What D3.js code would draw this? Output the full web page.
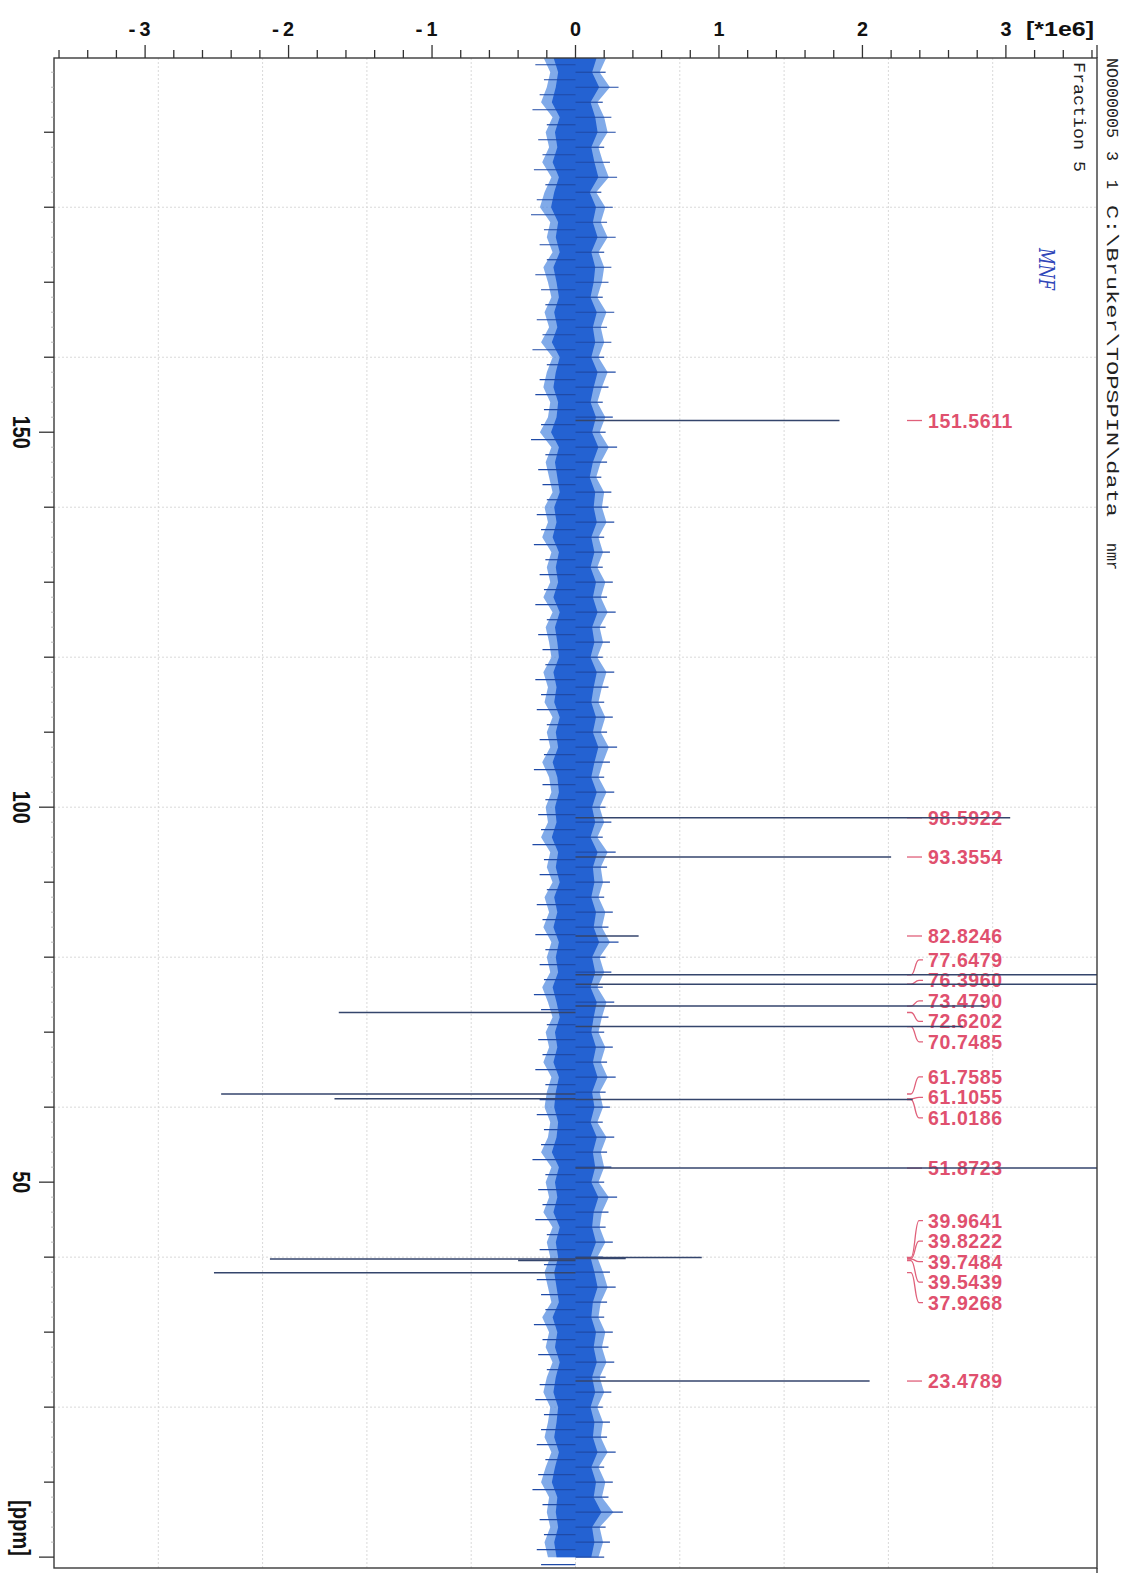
<!DOCTYPE html>
<html><head><meta charset="utf-8">
<script src="https://cdn.jsdelivr.net/npm/d3@7"></script>
<style>body{margin:0;background:#fff}svg{display:block}</style>
</head><body>
<script>
// ---- data ----
const peakPpm = [151.5611, 98.5922, 93.3554, 82.8246, 77.6479, 76.3960, 73.4790, 72.6202, 70.7485,
                 61.7585, 61.1055, 61.0186, 51.8723, 39.9641, 39.8222, 39.7484, 39.5439, 37.9268, 23.4789];
const peakIntensity = [1.84, 3.03, 2.2, 0.44, 4.0, 4.0, 2.85, -1.65, 2.7,
                       -2.47, -1.68, 2.35, 4.2, 0.88, 0.35, -2.13, -0.4, -2.52, 2.05]; // *1e6
const peakLabels = ["151.5611","98.5922","93.3554","82.8246","77.6479","76.3960","73.4790","72.6202","70.7485",
                    "61.7585","61.1055","61.0186","51.8723","39.9641","39.8222","39.7484","39.5439","37.9268","23.4789"];
// baseline noise envelope, sampled every 2 ppm from 200 to 0
const noisePpm = d3.range(200, -1, -2);
const noiseHi = [
0.27,0.21,0.30,0.19,0.25,0.28,0.20,0.24,0.29,0.18,
0.26,0.22,0.28,0.20,0.25,0.23,0.19,0.27,0.22,0.25,
0.20,0.28,0.23,0.19,0.26,0.21,0.29,0.22,0.18,0.25,
0.23,0.27,0.20,0.24,0.19,0.26,0.22,0.28,0.21,0.24,
0.19,0.27,0.23,0.20,0.26,0.22,0.29,0.24,0.20,0.27,
0.21,0.25,0.19,0.28,0.22,0.24,0.20,0.26,0.23,0.30,
0.21,0.25,0.19,0.27,0.23,0.20,0.26,0.22,0.28,0.21,
0.24,0.19,0.27,0.22,0.25,0.20,0.29,0.23,0.21,0.26,
0.19,0.24,0.28,0.22,0.20,0.26,0.23,0.27,0.21,0.25,
0.19,0.24,0.22,0.28,0.20,0.26,0.23,0.33,0.21,0.24,0.20];
const noiseLo = [
-0.28,-0.22,-0.25,-0.30,-0.20,-0.26,-0.23,-0.29,-0.21,-0.27,
-0.31,-0.22,-0.25,-0.20,-0.28,-0.24,-0.21,-0.27,-0.23,-0.30,
-0.20,-0.25,-0.28,-0.22,-0.24,-0.31,-0.21,-0.26,-0.23,-0.20,
-0.27,-0.24,-0.29,-0.21,-0.25,-0.22,-0.28,-0.20,-0.26,-0.23,
-0.21,-0.28,-0.24,-0.27,-0.20,-0.25,-0.22,-0.29,-0.23,-0.21,
-0.26,-0.24,-0.30,-0.22,-0.25,-0.20,-0.27,-0.23,-0.28,-0.21,
-0.25,-0.22,-0.29,-0.24,-0.20,-0.26,-0.23,-0.28,-0.21,-0.25,
-0.27,-0.22,-0.24,-0.30,-0.21,-0.26,-0.23,-0.28,-0.20,-0.25,
-0.22,-0.27,-0.24,-0.21,-0.29,-0.23,-0.26,-0.20,-0.25,-0.28,
-0.22,-0.24,-0.27,-0.21,-0.26,-0.30,-0.23,-0.25,-0.22,-0.27,-0.24];
const xMajorTicks = [-3,-2,-1,0,1,2,3];
const yLabelTicks = [150,100,50];

// ---- layout ----
const W=1129, H=1573, L=54, R=1097, T=58, B=1568;
const svg = d3.select("body").append("svg").attr("width",W).attr("height",H);
const x = d3.scaleLinear().domain([-3.635,3.635]).range([L,R]);
const y = d3.scaleLinear().domain([199.9,-1.45]).range([T,B]);
const sans = "'Liberation Sans', Arial, sans-serif";
const mono = "'Liberation Mono', 'DejaVu Sans Mono', monospace";

svg.append("defs").append("clipPath").attr("id","plot")
  .append("rect").attr("x",L).attr("y",T).attr("width",R-L).attr("height",B-T);

// grid
const grid = svg.append("g").attr("stroke","#d9d9d9").attr("stroke-width",1).attr("stroke-dasharray","2,2");
d3.range(1,10).forEach(i=>{
  const gx = L + (R-L)*i/10;
  grid.append("line").attr("x1",gx).attr("x2",gx).attr("y1",T).attr("y2",B);
});
y.ticks(10).filter(v=>v%20===0 && v>0 && v<200).forEach(v=>{
  grid.append("line").attr("x1",L).attr("x2",R).attr("y1",y(v)).attr("y2",y(v));
});

// peak labels (behind lines)
const sp = 20.5;
let items = peakPpm.map((p,i)=>({i, t:y(p)})).sort((a,b)=>a.t-b.t);
let clusters = items.map(it=>({items:[it], mean:it.t}));
let merged = true;
while(merged){
  merged=false;
  for(let k=0;k<clusters.length-1;k++){
    const a=clusters[k], b=clusters[k+1];
    const aEnd=a.mean+(a.items.length-1)/2*sp, bStart=b.mean-(b.items.length-1)/2*sp;
    if(bStart-aEnd<sp){
      const its=a.items.concat(b.items);
      clusters.splice(k,2,{items:its, mean:d3.mean(its,d=>d.t)});
      merged=true; break;
    }
  }
}
clusters.forEach(c=>c.items.forEach((it,k)=>{it.ly=c.mean+(k-(c.items.length-1)/2)*sp;}));
const lab = svg.append("g");
items.forEach(it=>{
  const t=it.t, ly=it.ly;
  lab.append("path")
    .attr("d", Math.abs(t-ly)<0.5 ? `M907,${t}L922,${t}` :
      `M907,${t}L911,${t}C915,${t} 915,${ly} 919,${ly}L923,${ly}`)
    .attr("fill","none").attr("stroke","#e0607a").attr("stroke-width",1.3);
  lab.append("text").attr("x",928).attr("y",ly).attr("dy","0.36em")
    .attr("font-family",sans).attr("font-weight","bold").attr("font-size",19.5)
    .attr("letter-spacing",0.6).attr("fill","#e0506e").text(peakLabels[it.i]);
});

// spectrum
const plot = svg.append("g").attr("clip-path","url(#plot)");
const env = noisePpm.map((p,i)=>({p, hi:noiseHi[i], lo:noiseLo[i]}));
plot.append("path").datum(env)
  .attr("d", d3.area().y(d=>y(d.p)).x0(d=>x(d.lo*0.8)).x1(d=>x(d.hi*0.8)))
  .attr("fill","#4a86e0").attr("opacity",0.7);
plot.append("path").datum(env)
  .attr("d", d3.area().y(d=>y(d.p)).x0(d=>x(d.lo*0.55)).x1(d=>x(d.hi*0.55)))
  .attr("fill","#2462d2");
const spikes = plot.append("g").attr("stroke","#1f4aa6").attr("stroke-width",1.2);
env.forEach(d=>{
  spikes.append("line").attr("x1",x(0)).attr("x2",x(d.hi)).attr("y1",y(d.p)).attr("y2",y(d.p));
  spikes.append("line").attr("x1",x(0)).attr("x2",x(d.lo)).attr("y1",y(d.p-1)).attr("y2",y(d.p-1));
});
plot.selectAll("line.peak").data(peakPpm).join("line").attr("class","peak")
  .attr("x1",x(0)).attr("x2",(d,i)=>x(peakIntensity[i]))
  .attr("y1",d=>y(d)).attr("y2",d=>y(d))
  .attr("stroke","#34456c").attr("stroke-width",1.5);

// frame
svg.append("rect").attr("x",L).attr("y",T).attr("width",R-L).attr("height",B-T)
  .attr("fill","none").attr("stroke","#3a3a3a").attr("stroke-width",1.4);
svg.append("line").attr("x1",R).attr("x2",R).attr("y1",B).attr("y2",H)
  .attr("stroke","#3a3a3a").attr("stroke-width",1.4);

// top axis
const ta = svg.append("g").attr("stroke","#333").attr("stroke-width",1.3);
d3.range(-36,37,2).map(v=>v/10).forEach(v=>{
  const major = Math.abs(v-Math.round(v))<1e-6;
  ta.append("line").attr("x1",x(v)).attr("x2",x(v)).attr("y1",T).attr("y2",T-(major?13:8));
});
ta.append("line").attr("x1",R).attr("x2",R).attr("y1",T).attr("y2",T-13);
const tl = svg.append("g").attr("font-family",sans).attr("font-weight","bold").attr("font-size",21).attr("fill","#111");
xMajorTicks.forEach(v=>{
  tl.append("text").attr("x",x(v)).attr("y",36).attr("text-anchor","middle")
    .attr("textLength",11).attr("lengthAdjust","spacingAndGlyphs").text(String(Math.abs(v)));
  if(v<0) tl.append("text").attr("x",x(v)-13).attr("y",36).attr("text-anchor","middle").text("-");
});
tl.append("text").attr("x",1026).attr("y",36).attr("textLength",68).attr("lengthAdjust","spacingAndGlyphs").text("[*1e6]");

// left axis
const la = svg.append("g").attr("stroke","#333");
d3.range(0,200,2).forEach(v=>{
  const m10 = v%10===0, m50 = v%50===0;
  la.append("line").attr("x1",L).attr("x2",L-(m50?15:m10?10:3)).attr("y1",y(v)).attr("y2",y(v))
    .attr("stroke-width",m10?1.3:0.8).attr("stroke",m10?"#333":"#aaa");
});
const ll = svg.append("g").attr("font-family",sans).attr("font-weight","bold").attr("font-size",24).attr("fill","#111");
yLabelTicks.forEach(v=>{
  ll.append("text").attr("transform",`translate(22,${y(v)}) rotate(90)`).attr("text-anchor","middle").attr("dy","0.36em")
    .attr("textLength",String(v).length*11).attr("lengthAdjust","spacingAndGlyphs").text(String(v));
});
ll.append("text").attr("transform",`translate(22,1528) rotate(90)`).attr("text-anchor","middle").attr("dy","0.36em")
  .attr("textLength",56).attr("lengthAdjust","spacingAndGlyphs").text("[ppm]");

// right side info text
const info = svg.append("g").attr("font-family",mono).attr("font-size",16).attr("fill","#222");
function vtext(cx, y0, len, s){
  info.append("text").attr("transform",`translate(${cx},${y0}) rotate(90)`).attr("dy","0.36em")
    .attr("textLength",len).attr("lengthAdjust","spacingAndGlyphs").text(s);
}
vtext(1113, 58, 80, "NO000005");
vtext(1113, 151, 10, "3");
vtext(1113, 180, 9, "1");
vtext(1113, 205, 312, "C:\\Bruker\\TOPSPIN\\data");
vtext(1113, 543, 27, "nmr");
vtext(1080, 62, 110, "Fraction 5");
svg.append("text").attr("transform","translate(1047,248) rotate(90)").attr("dy","0.36em")
  .attr("font-family","'DejaVu Serif', serif").attr("font-style","italic").attr("font-size",22)
  .attr("textLength",42).attr("lengthAdjust","spacingAndGlyphs").attr("fill","#2f46b8").text("MNF");
</script>
</body></html>
